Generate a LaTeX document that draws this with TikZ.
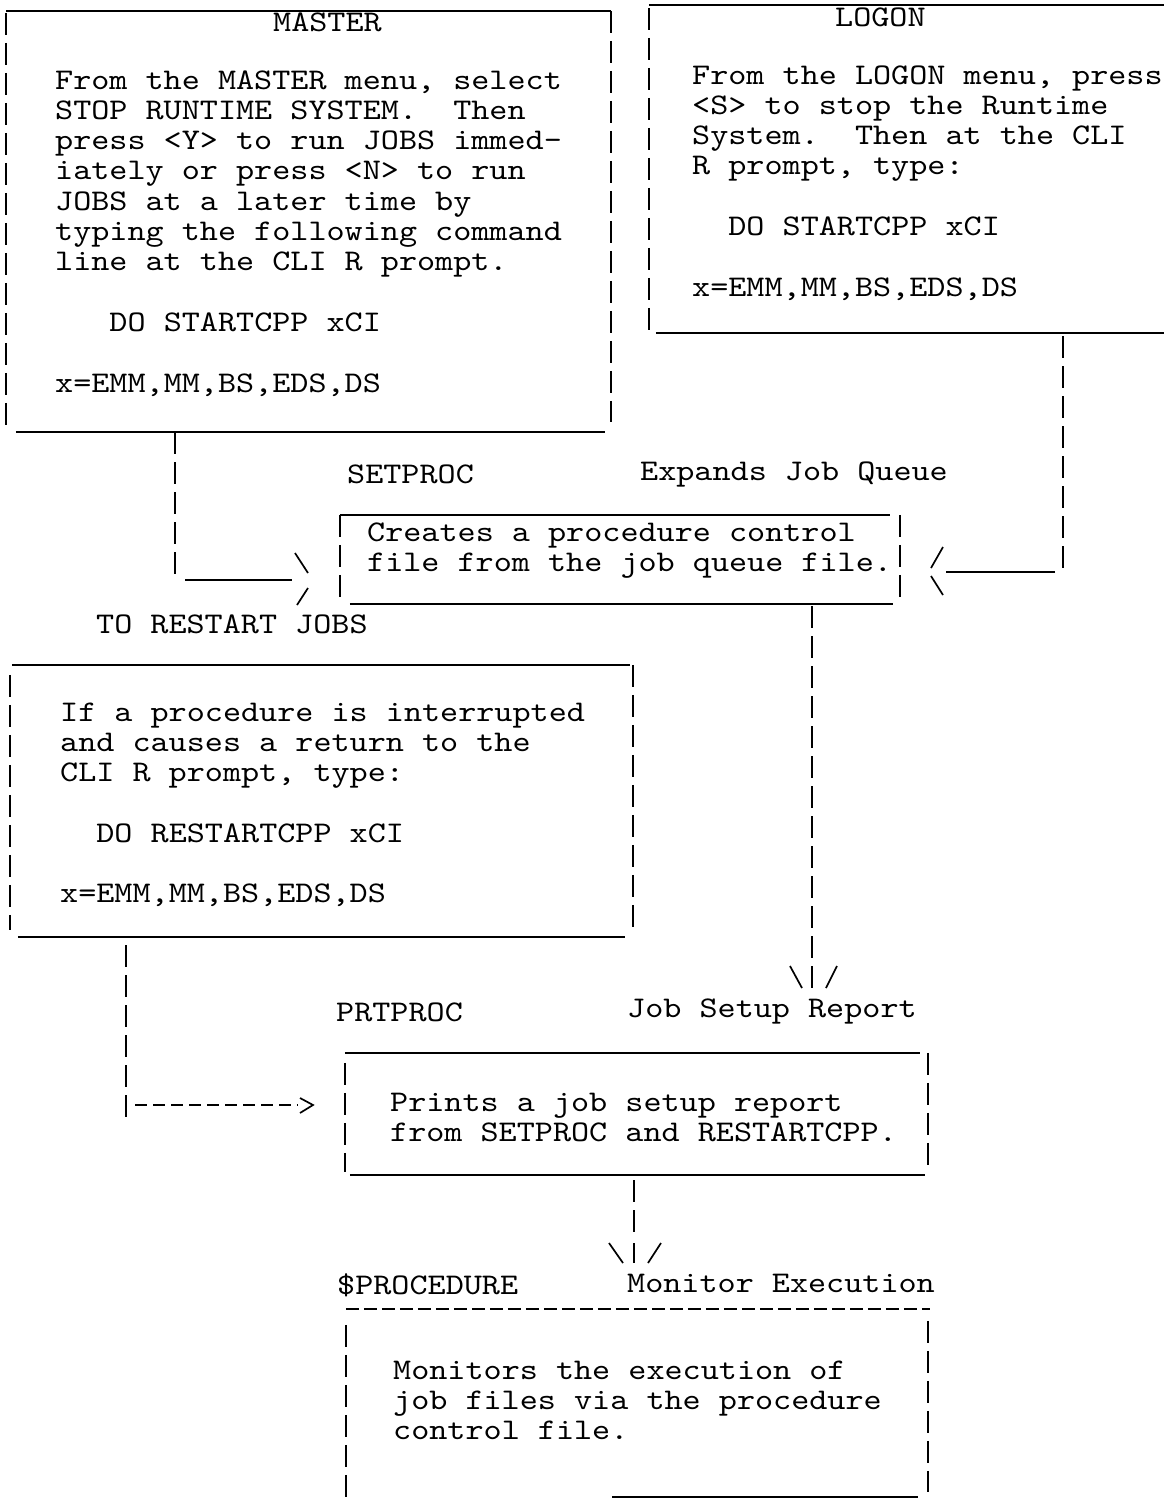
\documentclass[tikz,border=0pt]{standalone}
\usepackage{fontspec}
\newfontfamily\tw{lmmono10-regular.otf}[FakeStretch=1.149]
\newcommand\regf{\tw\fontsize{30}{30.3}\selectfont\frenchspacing}
\usetikzlibrary{fit,calc}
\begin{document}
\begin{tikzpicture}[x=1pt,y=-1pt,
  ln/.style={line width=1.7pt},
  vd/.style={line width=1.7pt, dash pattern=on 22pt off 8pt},
  hd/.style={line width=1.7pt, dash pattern=on 12pt off 6pt},
  hdd/.style={line width=1.7pt, dash pattern=on 13pt off 5pt},
  area/.style={inner sep=0pt, draw=none},
  txt/.style={anchor=base west, inner sep=0pt, align=flush left, text width=640pt, font=\regf},
  lbl/.style={anchor=base west, inner sep=0pt, font=\regf},
]
\useasboundingbox (0,0) rectangle (1163,1500);

% ---------- MASTER box ----------
\node[area, fit={(6,11) (611,432)}] (master) {};
\draw[ln] (master.north west) -- (master.north east);
\draw[vd] ([yshift=-2pt]master.north west) -- ([yshift=7pt]master.south west);
\draw[vd] (master.north east) -- ([yshift=10pt]master.south east);
\draw[ln] ([xshift=10pt]master.south west) -- ([xshift=-6pt]master.south east);
\node[lbl] (mastertitle) at (273,31) {MASTER};
\node[txt] (mastertext) at (55,89) {From the MASTER menu, select\\STOP RUNTIME SYSTEM.\ \ Then\\press <Y> to run JOBS immed-\\iately or press <N> to run\\JOBS at a later time by\\typing the following command\\line at the CLI R prompt.\\[30.3pt]\hphantom{000}DO STARTCPP xCI\\[30.3pt]x=EMM,MM,BS,EDS,DS};

% ---------- LOGON box ----------
\node[area, fit={(649,5) (1165,333)}] (logon) {};
\draw[ln] (logon.north west) -- (logon.north east);
\draw[vd] ([yshift=-3pt]logon.north west) -- ([yshift=3pt]logon.south west);
\draw[ln] ([xshift=7pt]logon.south west) -- (logon.south east);
\node[lbl] (logontitle) at (835,26) {LOGON};
\node[txt] (logontext) at (692,84) {From the LOGON menu, press\\<S> to stop the Runtime\\System.\ \ Then at the CLI\\R prompt, type:\\[30.3pt]\hphantom{00}DO STARTCPP xCI\\[30.3pt]x=EMM,MM,BS,EDS,DS};

% ---------- SETPROC box ----------
\node[area, fit={(340,515) (900,604)}] (setproc) {};
\draw[ln] (setproc.north west) -- ([xshift=-10pt]setproc.north east);
\draw[vd] (setproc.north west) -- (setproc.south west);
\draw[vd] (setproc.north east) -- ([yshift=4pt]setproc.south east);
\draw[ln] ([xshift=10pt]setproc.south west) -- ([xshift=-7pt]setproc.south east);
\node[lbl] (setproclbl) at (347,483) {SETPROC};
\node[lbl] (expandslbl) at (640,480) {Expands Job Queue};
\node[txt] (setproctext) at (367,541) {Creates a procedure control\\file from the job queue file.};
\node[lbl] (restartlbl) at (96,633) {TO RESTART JOBS};

% MASTER -> SETPROC
\coordinate (mbend) at (175,580);
\coordinate (mtip) at (309,580);
\draw[vd] (master.south -| mbend) -- ([yshift=2pt]mbend);
\draw[ln] ([xshift=10pt]mbend) -- ([xshift=-17pt]mtip);
\draw[ln] ($(mtip)+(-14,-27)$) -- ($(mtip)+(-1,-7)$);
\draw[ln] ($(mtip)+(-1,8)$) -- ($(mtip)+(-12,25)$);

% LOGON -> SETPROC
\coordinate (lbend) at (1063,572);
\coordinate (ltip) at (930,572);
\draw[vd] ([yshift=-3pt]logon.south -| lbend) -- ([yshift=2pt]lbend);
\draw[ln] ([xshift=-8pt]lbend) -- ([xshift=16pt]ltip);
\draw[ln] ($(ltip)+(13,-25)$) -- ($(ltip)+(1,-4)$);
\draw[ln] ($(ltip)+(1,4)$) -- ($(ltip)+(13,23)$);

% ---------- RESTART box ----------
\node[area, fit={(10,665) (633,937)}] (restart) {};
\draw[ln] ([xshift=2pt]restart.north west) -- ([xshift=-3pt]restart.north east);
\draw[vd] ([yshift=-10pt]restart.north west) -- ([yshift=7pt]restart.south west);
\draw[vd] (restart.north east) -- ([yshift=7pt]restart.south east);
\draw[ln] ([xshift=8pt]restart.south west) -- ([xshift=-8pt]restart.south east);
\node[txt] (restarttext) at (60,721) {If a procedure is interrupted\\and causes a return to the\\CLI R prompt, type:\\[30.3pt]\hphantom{00}DO RESTARTCPP xCI\\[30.3pt]x=EMM,MM,BS,EDS,DS};

% ---------- PRTPROC box ----------
\node[area, fit={(345,1053) (928,1175)}] (prtproc) {};
\draw[ln] (prtproc.north west) -- ([xshift=-8pt]prtproc.north east);
\draw[vd] ([yshift=-10pt]prtproc.north west) -- ([yshift=3pt]prtproc.south west);
\draw[vd] (prtproc.north east) -- ([yshift=7pt]prtproc.south east);
\draw[ln] ([xshift=5pt]prtproc.south west) -- ([xshift=-3pt]prtproc.south east);
\node[lbl] (prtproclbl) at (336,1021) {PRTPROC};
\node[lbl] (jobsetuplbl) at (627,1017) {Job Setup Report};
\node[txt] (prtproctext) at (390,1111) {Prints a job setup report\\from SETPROC and RESTARTCPP.};

% SETPROC -> PRTPROC (Job Setup Report)
\coordinate (stip) at (812,988);
\draw[vd] ([yshift=-2pt]setproc.south -| stip) -- ([yshift=30pt]stip);
\draw[ln] ($(stip)+(0,-22)$) -- (stip);
\draw[ln] ($(stip)+(-22,-22)$) -- ($(stip)+(-10,0)$);
\draw[ln] ($(stip)+(25,-22)$) -- ($(stip)+(14,0)$);

% RESTART -> PRTPROC
\coordinate (rbend) at (126,1105);
\coordinate (rtip) at (313,1105);
\draw[vd] ([yshift=-8pt]restart.south -| rbend) -- ([yshift=-12pt]rbend);
\draw[hd] ([xshift=9pt]rbend) -- ([xshift=-15pt]rtip);
\draw[ln] ($(rtip)+(-13,-7)$) -- (rtip) -- ($(rtip)+(-13,8)$);

% ---------- $PROCEDURE box ----------
\node[area, fit={(346,1309) (928,1500)}] (procbox) {};
\draw[hdd] (procbox.north west) -- ([xshift=2pt]procbox.north east);
\draw[vd] ([yshift=-16pt]procbox.north west) -- (procbox.south west);
\draw[vd] ([yshift=-12pt]procbox.north east) -- ([yshift=8pt]procbox.south east);
\draw[ln] (612,1497) -- (918,1497);
\node[lbl] (proclbl) at (337,1294) {\$PROCEDURE};
\node[lbl] (monitorlbl) at (627,1292) {Monitor Execution};
\node[txt] (proctext) at (393,1379) {Monitors the execution of\\job files via the procedure\\control file.};

% PRTPROC -> $PROCEDURE (Monitor Execution)
\coordinate (ptip) at (634,1263);
\draw[vd] ([yshift=-5pt]prtproc.south -| ptip) -- ([yshift=26pt]ptip);
\draw[ln] ($(ptip)+(0,-20)$) -- (ptip);
\draw[ln] ($(ptip)+(-25,-20)$) -- ($(ptip)+(-11,0)$);
\draw[ln] ($(ptip)+(27,-20)$) -- ($(ptip)+(14,0)$);
\end{tikzpicture}
\end{document}
